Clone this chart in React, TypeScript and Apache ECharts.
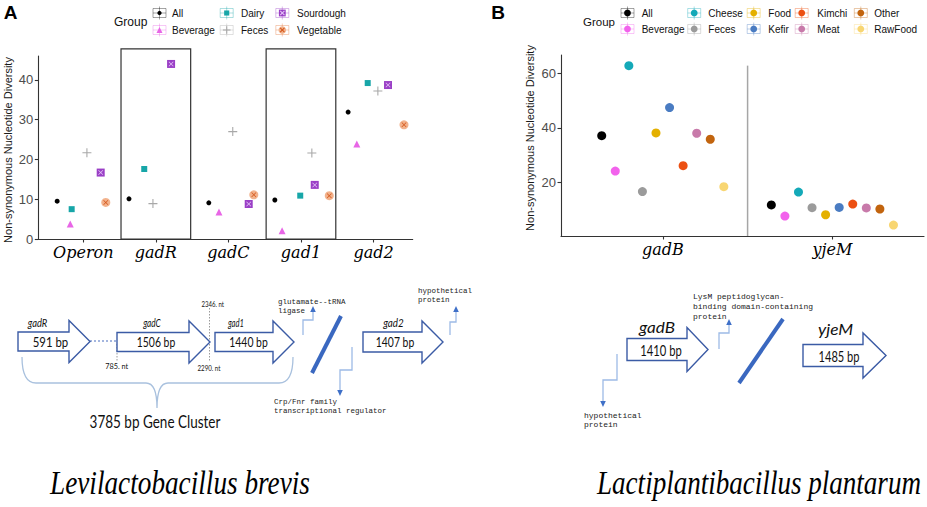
import React, { useEffect, useRef } from "react";
import * as echarts from "echarts";

// ---------------- Panel A: Levilactobacillus brevis ----------------
const genesA = ["Operon", "gadR", "gadC", "gad1", "gad2"];
const groupsA = ["All", "Beverage", "Dairy", "Feces", "Sourdough", "Vegetable"];
const allA = [9.5, 10.1, 9.1, 9.8, 31.9];
const beverageA = [3.8, null, 6.8, 2.1, 23.9];
const dairyA = [7.5, 17.6, null, 10.9, 39.2];
const fecesA = [21.7, 8.9, 27.0, 21.6, 37.2];
const sourdoughA = [16.7, 44.0, 8.8, 13.6, 38.7];
const vegetableA = [9.2, null, 11.1, 10.9, 28.7];
// horizontal jitter of each point inside its gene (category units)
const allJitA = [-0.36, -0.37, -0.27, -0.36, -0.35];
const beverageJitA = [-0.18, 0, -0.13, -0.26, -0.23];
const dairyJitA = [-0.16, -0.16, 0, -0.01, -0.08];
const fecesJitA = [0.05, -0.04, 0.06, 0.15, 0.06];
const sourdoughJitA = [0.24, 0.21, 0.28, 0.19, 0.2];
const vegetableJitA = [0.31, 0, 0.35, 0.39, 0.42];
const boxedGenesA = ["gadR", "gad1"];
const yTicksA = [0, 10, 20, 30, 40];

// ---------------- Panel B: Lactiplantibacillus plantarum ----------------
const genesB = ["gadB", "yjeM"];
const groupsB = ["All", "Beverage", "Cheese", "Feces", "Food", "Kefir", "Kimchi", "Meat", "Other", "RawFood"];
const gadBValues = [37.1, 24.1, 62.8, 16.6, 38.1, 47.4, 26.1, 38.0, 35.8, 18.4];
const yjeMValues = [11.7, 7.6, 16.4, 10.7, 8.1, 10.8, 12.0, 10.6, 10.2, 4.3];
const yTicksB = [20, 40, 60];

// ---------------- styles ----------------
const valuesA = [allA, beverageA, dairyA, fecesA, sourdoughA, vegetableA];
const jitA = [allJitA, beverageJitA, dairyJitA, fecesJitA, sourdoughJitA, vegetableJitA];
const PLUS = "path://M4.4,0H5.6V4.4H10V5.6H5.6V10H4.4V5.6H0V4.4H4.4Z";
const CROSS = "path://M1,0L5,4L9,0L10,1L6,5L10,9L9,10L5,6L1,10L0,9L4,5L0,1Z";
type Layer = { kind: string; size: number; color: string };
const styleA: Record<string, { color: string; layers: Layer[] }> = {
  All: { color: "#000000", layers: [{ kind: "circle", size: 5, color: "#000000" }] },
  Beverage: { color: "#e866e6", layers: [{ kind: "triangle", size: 7, color: "#e866e6" }] },
  Dairy: { color: "#17a6a8", layers: [{ kind: "square", size: 6, color: "#17a6a8" }] },
  Feces: { color: "#a8a8a8", layers: [{ kind: "plus", size: 9, color: "#a8a8a8" }] },
  Sourdough: {
    color: "#9a3fc6",
    layers: [
      { kind: "square", size: 8, color: "#9a3fc6" },
      { kind: "cross", size: 5, color: "#e4c4f6" },
    ],
  },
  Vegetable: {
    color: "#e4763a",
    layers: [
      { kind: "circle", size: 9, color: "#f2b28c" },
      { kind: "cross", size: 5, color: "#d4561a" },
    ],
  },
};
const colorsB: Record<string, string> = {
  All: "#000000",
  Beverage: "#f262ec",
  Cheese: "#14a9b8",
  Feces: "#9b9b9b",
  Food: "#e4b000",
  Kefir: "#4a7cc2",
  Kimchi: "#ec5012",
  Meat: "#c87aaa",
  Other: "#c2640e",
  RawFood: "#f8d672",
};

const boxHalfA = 0.48;
const boxTopA = 47.8;
const sepTopB = 62.8;
const dodgeB = 0.8;

function symOf(kind: string) {
  switch (kind) {
    case "circle":
      return "circle";
    case "triangle":
      return "triangle";
    case "square":
      return "rect";
    case "plus":
      return PLUS;
    default:
      return CROSS;
  }
}

function gfxSym(kind: string, cx: number, cy: number, size: number, color: string): any[] {
  const h = size / 2;
  switch (kind) {
    case "circle":
      return [{ type: "circle", shape: { cx, cy, r: h }, style: { fill: color } }];
    case "triangle":
      return [{ type: "polygon", shape: { points: [[cx, cy - h], [cx + h, cy + h], [cx - h, cy + h]] }, style: { fill: color } }];
    case "square":
      return [{ type: "rect", shape: { x: cx - h, y: cy - h, width: size, height: size }, style: { fill: color } }];
    case "plus":
      return [
        { type: "line", shape: { x1: cx - h, y1: cy, x2: cx + h, y2: cy }, style: { stroke: color, lineWidth: 1.1 } },
        { type: "line", shape: { x1: cx, y1: cy - h, x2: cx, y2: cy + h }, style: { stroke: color, lineWidth: 1.1 } },
      ];
    default:
      return [
        { type: "line", shape: { x1: cx - h, y1: cy - h, x2: cx + h, y2: cy + h }, style: { stroke: color, lineWidth: 1.1 } },
        { type: "line", shape: { x1: cx + h, y1: cy - h, x2: cx - h, y2: cy + h }, style: { stroke: color, lineWidth: 1.1 } },
      ];
  }
}

let measureCtx: CanvasRenderingContext2D | null = null;
function measure(str: string, font: string) {
  if (!measureCtx) measureCtx = document.createElement("canvas").getContext("2d");
  if (!measureCtx) return 0;
  measureCtx.font = font;
  return measureCtx.measureText(str).width;
}

function txt(str: string, x: number, y: number, o: any = {}): any {
  const size = o.size ?? 12;
  const family = o.family ?? "Liberation Sans";
  const fstyle = o.fontStyle ?? "normal";
  const weight = o.weight ?? "normal";
  const align = o.align ?? "center";
  let scaleX = 1;
  if (o.width) {
    const w = measure(str, `${fstyle} ${weight} ${size}px "${family}"`);
    if (w > 0) scaleX = o.width / w;
  }
  return {
    type: "text",
    x,
    y,
    scaleX,
    rotation: o.rotation ?? 0,
    z: 50,
    silent: true,
    style: {
      text: str,
      fontSize: size,
      fontFamily: family,
      fontStyle: fstyle,
      fontWeight: weight,
      fill: o.color ?? "#111111",
      align,
      verticalAlign: "middle",
      textAlign: align,
      textVerticalAlign: "middle",
    },
  };
}

function geneArrow(x0: number, xh: number, tip: number, yc: number, bh: number, hh: number): any {
  return {
    type: "polygon",
    z: 40,
    shape: {
      points: [
        [x0, yc - bh],
        [xh, yc - bh],
        [xh, yc - hh],
        [tip, yc],
        [xh, yc + hh],
        [xh, yc + bh],
        [x0, yc + bh],
      ],
    },
    style: { fill: "#ffffff", stroke: "#3b5ba5", lineWidth: 1.4 },
  };
}

function stepArrow(pts: number[][], dir: "up" | "down"): any[] {
  const [x, y] = pts[pts.length - 1];
  const head = dir === "up" ? [[x - 2.8, y], [x + 2.8, y], [x, y - 6]] : [[x - 2.8, y], [x + 2.8, y], [x, y + 6]];
  return [
    { type: "polyline", z: 40, shape: { points: pts }, style: { stroke: "#9dbbe6", lineWidth: 1.3, fill: null } },
    { type: "polygon", z: 40, shape: { points: head }, style: { fill: "#3f70c8" } },
  ];
}

function line(x1: number, y1: number, x2: number, y2: number, style: any): any {
  return { type: "line", z: 40, shape: { x1, y1, x2, y2 }, style };
}

function monoLines(lines: string[], x: number, y0: number, step: number, size: number): any[] {
  return lines.map((s, i) =>
    txt(s, x, y0 + i * step, { size, family: "Liberation Mono", align: "left", color: "#222222" })
  );
}

const BRACE_D =
  "M22,357 Q22,383 36,383 L146,383 Q157,383 157,408 Q157,383 168,383 L279,383 Q293,383 293,357";
try {
  echarts.graphic.registerShape("geneBrace", (echarts.graphic as any).extendPath(BRACE_D, {}));
} catch (e) {
  /* already registered */
}

function legendKey(cx: number, cy: number, color: string, layers: Layer[]): any[] {
  const ls = { stroke: color, lineWidth: 0.8, opacity: 0.45 };
  const els: any[] = [
    { type: "rect", shape: { x: cx - 6.5, y: cy - 4.5, width: 13, height: 9 }, style: { ...ls, fill: "none" } },
    line(cx - 6.5, cy, cx + 6.5, cy, ls),
    line(cx, cy - 6.5, cx, cy + 6.5, ls),
  ];
  layers.forEach((l) => els.push(...gfxSym(l.kind, cx, cy, l.size * 0.85, l.color)));
  return els.map((e) => ({ ...e, z: 45 }));
}

function buildOption(): any {
  // ---------- series A ----------
  const seriesA: any[] = [];
  groupsA.forEach((g, gi) => {
    const pts: number[][] = [];
    genesA.forEach((_, i) => {
      const v = valuesA[gi][i];
      if (v != null) pts.push([i + 1 + jitA[gi][i], v]);
    });
    styleA[g].layers.forEach((l, li) => {
      seriesA.push({
        type: "scatter",
        name: li === 0 ? g : g + "-overlay",
        xAxisIndex: 0,
        yAxisIndex: 0,
        symbol: symOf(l.kind),
        symbolSize: l.size,
        itemStyle: { color: l.color, opacity: 1 },
        data: pts,
        z: 5 + li,
        silent: true,
      });
    });
  });
  seriesA.push({
    type: "custom",
    xAxisIndex: 0,
    yAxisIndex: 0,
    clip: false,
    silent: true,
    z: 1,
    data: boxedGenesA.map((g) => [genesA.indexOf(g) + 1, 0]),
    renderItem: (_p: any, api: any) => {
      const c = api.value(0);
      const a = api.coord([c - boxHalfA, 0]);
      const b = api.coord([c + boxHalfA, boxTopA]);
      return {
        type: "rect",
        shape: { x: a[0], y: b[1], width: b[0] - a[0], height: a[1] - b[1] },
        style: { fill: "none", stroke: "#333333", lineWidth: 1.2 },
      };
    },
  });

  // ---------- series B ----------
  const step = dodgeB / groupsB.length;
  const seriesB: any[] = groupsB.map((g, i) => {
    const off = (i - (groupsB.length - 1) / 2) * step;
    return {
      type: "scatter",
      name: g,
      xAxisIndex: 1,
      yAxisIndex: 1,
      symbol: "circle",
      symbolSize: 9,
      itemStyle: { color: colorsB[g], opacity: 1 },
      data: [
        [1 + off, gadBValues[i]],
        [2 + off, yjeMValues[i]],
      ],
      z: 5,
      silent: true,
    };
  });
  seriesB.push({
    type: "custom",
    xAxisIndex: 1,
    yAxisIndex: 1,
    clip: false,
    silent: true,
    z: 1,
    data: [[1.5, 0.3]],
    renderItem: (_p: any, api: any) => {
      const a = api.coord([api.value(0), api.value(1)]);
      const b = api.coord([api.value(0), sepTopB]);
      return {
        type: "line",
        shape: { x1: a[0], y1: a[1], x2: b[0], y2: b[1] },
        style: { stroke: "#a6a6a6", lineWidth: 1.5 },
      };
    },
  });

  const axisLine = { show: true, onZero: false, lineStyle: { color: "#333333", width: 1.1 } };
  const axisTickStyle = { lineStyle: { color: "#333333", width: 1.1 } };
  const yLabel = { fontSize: 13, color: "#4d4d4d", fontFamily: "Liberation Sans", margin: 5 };
  const xLabel = {
    fontSize: 16,
    fontFamily: "DejaVu Serif",
    fontStyle: "italic",
    color: "#000000",
    margin: 5,
  };

  // ---------- graphic: legends, titles, diagrams ----------
  const g: any[] = [];
  g.push(txt("A", 10.5, 12, { size: 19, weight: "bold", family: "Liberation Sans", color: "#000" }));
  g.push(txt("B", 498, 12, { size: 19, weight: "bold", family: "Liberation Sans", color: "#000" }));

  // legend A
  g.push(txt("Group", 114, 22, { size: 12, align: "left" }));
  const colXA = [159.5, 226.7, 282.3];
  const labXA = [172, 241, 297];
  const rowY = [13, 30];
  groupsA.forEach((name, i) => {
    const c = Math.floor(i / 2);
    const r = i % 2;
    g.push(...legendKey(colXA[c], rowY[r], styleA[name].color, styleA[name].layers));
    g.push(txt(name, labXA[c], rowY[r], { size: 10, align: "left" }));
  });

  // legend B
  g.push(txt("Group", 583, 22, { size: 11.5, align: "left" }));
  const colXB = [627.5, 694.2, 753.7, 801.7, 860.8];
  const labXB = [641.7, 708.3, 768.3, 817.3, 874.3];
  const rowYB = [13, 29];
  groupsB.forEach((name, i) => {
    const c = Math.floor(i / 2);
    const r = i % 2;
    g.push(...legendKey(colXB[c], rowYB[r], colorsB[name], [{ kind: "circle", size: 8, color: colorsB[name] }]));
    g.push(txt(name, labXB[c], rowYB[r], { size: 10, align: "left" }));
  });

  // y-axis titles
  const yTitle = "Non-synonymous Nucleotide Diversity";
  g.push(txt(yTitle, 8, 150, { size: 11, rotation: Math.PI / 2, color: "#1a1a1a" }));
  g.push(txt(yTitle, 530, 138, { size: 11, rotation: Math.PI / 2, color: "#1a1a1a" }));

  // ---------- diagram A ----------
  const calibri = "Lato";
  g.push(line(90, 341, 117, 341, { stroke: "#4a6fc0", lineWidth: 1.2, lineDash: [2, 2] }));
  g.push(line(117, 344, 117, 362, { stroke: "#9a9a9a", lineWidth: 1, lineDash: [1.5, 1.5] }));
  g.push(line(209.5, 308, 209.5, 362, { stroke: "#9a9a9a", lineWidth: 1, lineDash: [1.5, 1.5] }));
  g.push(geneArrow(18, 69, 90, 341.5, 9.5, 21));
  g.push(geneArrow(117, 189, 210, 342, 9.5, 21));
  g.push(geneArrow(215, 273, 294, 342, 9.5, 21));
  g.push(geneArrow(363, 422, 443, 342, 10, 21));
  g.push(txt("gadR", 37.5, 322, { size: 12, family: calibri, fontStyle: "italic", width: 19.5 }));
  g.push(txt("gadC", 152, 322, { size: 12, family: calibri, fontStyle: "italic", width: 17.5 }));
  g.push(txt("gad1", 236, 322, { size: 12, family: calibri, fontStyle: "italic", width: 16 }));
  g.push(txt("gad2", 393.5, 322, { size: 12, family: calibri, fontStyle: "italic", width: 20.5 }));
  g.push(txt("591 bp", 50.5, 341.5, { size: 14, family: calibri, width: 35.5 }));
  g.push(txt("1506 bp", 156, 341.5, { size: 14, family: calibri, width: 38.5 }));
  g.push(txt("1440 bp", 248.5, 341.5, { size: 14, family: calibri, width: 38.5 }));
  g.push(txt("1407 bp", 395, 342, { size: 14, family: calibri, width: 38.5 }));
  g.push(txt("785. nt", 116.7, 367, { size: 7, family: calibri, width: 23 }));
  g.push(txt("2346. nt", 212.8, 304, { size: 7, family: calibri, width: 22.5 }));
  g.push(txt("2290. nt", 209, 368, { size: 7, family: calibri, width: 23 }));
  g.push({ type: "geneBrace", x: 0, y: 0, z: 40, style: { stroke: "#a9c1de", fill: "none", lineWidth: 1.3 } });
  g.push(txt("3785 bp Gene Cluster", 155, 421, { size: 17, family: calibri, width: 131 }));
  g.push(...monoLines(["glutamate--tRNA", "ligase"], 278, 302, 8.5, 7.5));
  g.push(...stepArrow([[303, 335], [303, 320], [313, 320], [313, 312]], "up"));
  g.push(line(312, 373, 341, 316, { stroke: "#3a68c0", lineWidth: 4 }));
  g.push(...stepArrow([[352, 347], [352, 370], [340, 370], [340, 390]], "down"));
  g.push(...monoLines(["Crp/Fnr family", "transcriptional regulator"], 274, 402, 9, 7.5));
  g.push(...monoLines(["hypothetical", "protein"], 418, 291, 8.5, 7.5));
  g.push(...stepArrow([[450, 335], [450, 322], [456, 322], [456, 312]], "up"));

  // ---------- diagram B ----------
  g.push(geneArrow(627, 687, 708, 349.5, 11, 22));
  g.push(geneArrow(803, 863, 886, 355.5, 11, 22.5));
  g.push(txt("gadB", 657, 327, { size: 16, family: calibri, fontStyle: "italic", width: 36 }));
  g.push(txt("yjeM", 835.5, 329, { size: 16, family: calibri, fontStyle: "italic", width: 35 }));
  g.push(txt("1410 bp", 661, 350, { size: 15, family: calibri, width: 41.5 }));
  g.push(txt("1485 bp", 839, 356, { size: 15, family: calibri, width: 41 }));
  g.push(...stepArrow([[617, 354], [617, 380], [603, 380], [603, 401]], "down"));
  g.push(...monoLines(["hypothetical", "protein"], 584, 415, 9, 8));
  g.push(...stepArrow([[719, 349], [719, 333], [729, 333], [729, 325]], "up"));
  g.push(...monoLines(["LysM peptidoglycan-", "binding domain-containing", "protein"], 693, 296, 10, 8));
  g.push(line(739, 383, 783, 319, { stroke: "#3a68c0", lineWidth: 4 }));

  // species names
  g.push(txt("Levilactobacillus brevis", 180, 483, { size: 34, family: "Liberation Serif", fontStyle: "italic", width: 260, color: "#000" }));
  g.push(txt("Lactiplantibacillus plantarum", 759, 483, { size: 34, family: "Liberation Serif", fontStyle: "italic", width: 324, color: "#000" }));

  return {
    animation: false,
    backgroundColor: "#ffffff",
    grid: [
      { left: 38.3, top: 56, width: 374.4, height: 183 },
      { left: 561, top: 55, width: 363, height: 181 },
    ],
    xAxis: [
      {
        gridIndex: 0,
        type: "value",
        min: 0.38,
        max: 5.54,
        axisLine,
        axisTick: { ...axisTickStyle, length: 3.5, customValues: genesA.map((_, i) => i + 1) },
        axisLabel: { ...xLabel, customValues: genesA.map((_, i) => i + 1), formatter: (v: number) => genesA[Math.round(v) - 1] ?? "" },
        splitLine: { show: false },
      },
      {
        gridIndex: 1,
        type: "value",
        min: 0.4,
        max: 2.54,
        axisLine,
        axisTick: { ...axisTickStyle, length: 3.5, customValues: genesB.map((_, i) => i + 1) },
        axisLabel: { ...xLabel, customValues: genesB.map((_, i) => i + 1), formatter: (v: number) => genesB[Math.round(v) - 1] ?? "" },
        splitLine: { show: false },
      },
    ],
    yAxis: [
      {
        gridIndex: 0,
        type: "value",
        min: 0,
        max: 46,
        axisLine,
        axisTick: { ...axisTickStyle, length: 3.5, customValues: yTicksA },
        axisLabel: { ...yLabel, customValues: yTicksA },
        splitLine: { show: false },
      },
      {
        gridIndex: 1,
        type: "value",
        min: 0.3,
        max: 66.7,
        axisLine,
        axisTick: { ...axisTickStyle, length: 3.5, customValues: yTicksB },
        axisLabel: { ...yLabel, customValues: yTicksB },
        splitLine: { show: false },
      },
    ],
    series: [...seriesA, ...seriesB],
    graphic: { elements: g },
  };
}

export default function App() {
  const ref = useRef<HTMLDivElement>(null);
  useEffect(() => {
    document.body.style.margin = "0";
    if (!ref.current) return;
    const chart = echarts.init(ref.current, null, { renderer: "svg" });
    chart.setOption(buildOption());
    return () => chart.dispose();
  }, []);
  return <div ref={ref} style={{ width: 927, height: 507, background: "#ffffff" }} />;
}
